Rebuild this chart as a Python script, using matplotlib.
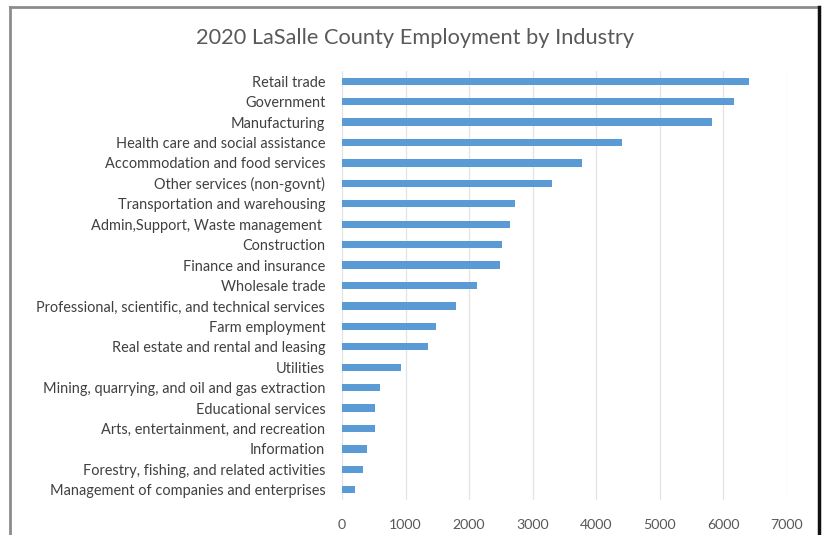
import matplotlib
matplotlib.use("Agg")
import matplotlib.pyplot as plt
from matplotlib.lines import Line2D

industries = [
    "Retail trade",
    "Government",
    "Manufacturing",
    "Health care and social assistance",
    "Accommodation and food services",
    "Other services (non-govnt)",
    "Transportation and warehousing",
    "Admin,Support, Waste management ",
    "Construction",
    "Finance and insurance",
    "Wholesale trade",
    "Professional, scientific, and technical services",
    "Farm employment",
    "Real estate and rental and leasing",
    "Utilities",
    "Mining, quarrying, and oil and gas extraction",
    "Educational services",
    "Arts, entertainment, and recreation",
    "Information",
    "Forestry, fishing, and related activities",
    "Management of companies and enterprises",
]
employment = [6410, 6175, 5825, 4400, 3775, 3310, 2730, 2650, 2525, 2485,
              2130, 1795, 1475, 1355, 925, 605, 525, 525, 400, 330, 200]
x_ticks = [0, 1000, 2000, 3000, 4000, 5000, 6000, 7000]

plt.rcParams["font.family"] = ["Lato", "DejaVu Sans"]

W, H = 827, 535
fig = plt.figure(figsize=(W / 100, H / 100), dpi=100)
fig.patch.set_facecolor("white")

ax = fig.add_axes([342 / W, 1 - 500 / H, (786.7 - 342) / W, (500 - 71) / H])
ypos = list(range(len(industries)))
ax.barh(ypos, employment, height=0.35, color="#5B9BD5", zorder=3)
ax.set_ylim(len(industries) - 0.5, -0.5)
ax.set_xlim(0, 7000)
ax.set_yticks(ypos)
ax.set_yticklabels(industries, fontsize=10.45, color="#404040")
ax.set_xticks(x_ticks)
ax.set_xticklabels([str(t) for t in x_ticks], fontsize=10.2, color="#595959")
ax.tick_params(axis="both", length=0)
ax.tick_params(axis="y", pad=12)
ax.tick_params(axis="x", pad=14)
ax.grid(axis="x", color="#E3E3E3", linewidth=0.9, zorder=0)
for s in ax.spines.values():
    s.set_visible(False)

fig.text(415 / W, 1 - 38 / H, "2020 LaSalle County Employment by Industry",
         ha="center", va="center", fontsize=15.7, color="#595959")

# frame around the chart area
fig.add_artist(Line2D([10 / W, 10 / W], [0, 1 - 7 / H], color="#8C8C8C", linewidth=2))
fig.add_artist(Line2D([10 / W, 819 / W], [1 - 7 / H, 1 - 7 / H], color="#8C8C8C", linewidth=2))
fig.add_artist(Line2D([819 / W, 819 / W], [0, 1 - 7 / H], color="#111111", linewidth=2.5))

fig.savefig("out.png", dpi=100)
